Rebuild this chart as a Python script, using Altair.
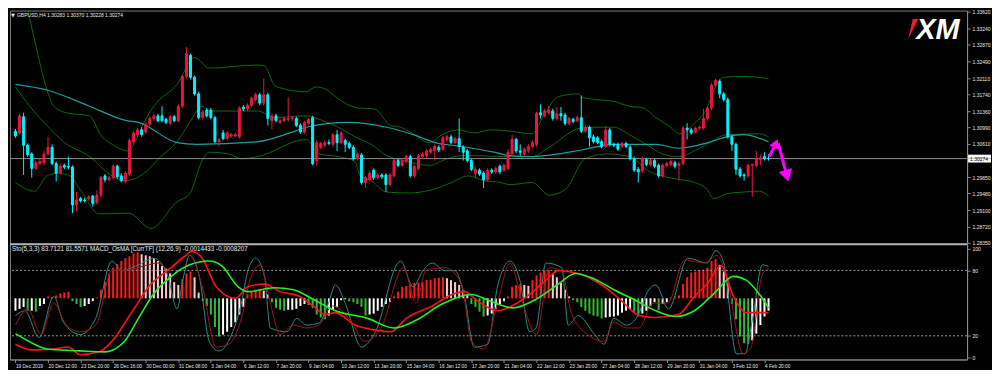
import altair as alt
import pandas as pd

# ---------------- candles (GBPUSD H4), bar index 0..185 ----------------
OPEN = [
1.3090,1.3086,1.3123,1.3058,1.3038,1.3005,1.3016,1.3018,1.3038,1.3053,
1.3016,1.2994,1.3012,1.3010,1.3008,1.2922,1.2936,1.2933,1.2936,1.2942,
1.2927,1.2944,1.2988,1.2979,1.2984,1.3010,1.2988,1.2975,1.2992,1.3066,
1.3082,1.3093,1.3088,1.3106,1.3119,1.3125,1.3125,1.3117,1.3108,1.3123,
1.3114,1.3147,1.3215,1.3263,1.3213,1.3175,1.3121,1.3138,1.3138,1.3121,
1.3066,1.3086,1.3073,1.3079,1.3079,1.3077,1.3145,1.3141,1.3149,1.3162,
1.3173,1.3154,1.3173,1.3114,1.3125,1.3110,1.3114,1.3117,1.3119,1.3119,
1.3103,1.3088,1.3108,1.3121,1.3023,1.3053,1.3058,1.3064,1.3060,1.3082,
1.3064,1.3069,1.3062,1.3053,1.3027,1.3036,1.2973,1.2979,1.3001,1.2984,
1.2990,1.2990,1.2968,1.2988,1.3023,1.3012,1.3021,1.3032,1.2988,1.3005,
1.3032,1.3034,1.3042,1.3045,1.3053,1.3049,1.3071,1.3077,1.3064,1.3073,
1.3053,1.3045,1.3023,1.2994,1.3001,1.2994,1.2979,1.3001,1.2997,1.3010,
1.3001,1.3005,1.3038,1.3071,1.3045,1.3038,1.3045,1.3055,1.3060,1.3132,
1.3125,1.3132,1.3136,1.3119,1.3130,1.3127,1.3108,1.3117,1.3114,1.3121,
1.3090,1.3099,1.3077,1.3075,1.3066,1.3055,1.3093,1.3060,1.3060,1.3055,
1.3062,1.3053,1.3027,1.3003,1.2999,1.3025,1.3014,1.3023,1.3012,1.2988,
1.3012,1.3014,1.3018,1.3012,1.3016,1.3097,1.3093,1.3088,1.3097,1.3097,
1.3119,1.3143,1.3195,1.3204,1.3175,1.3162,1.3077,1.3060,1.3003,1.2990,
1.2988,1.3012,1.3012,1.3025,1.3032,1.30283]
CLOSE = [
1.3079,1.3125,1.3058,1.3036,1.3005,1.3018,1.3021,1.3038,1.3053,1.3016,
1.2994,1.3010,1.3008,1.3008,1.2922,1.2933,1.2931,1.2931,1.2940,1.2925,
1.2944,1.2984,1.2979,1.2984,1.3010,1.2986,1.2977,1.2994,1.3069,1.3086,
1.3093,1.3082,1.3106,1.3119,1.3125,1.3114,1.3114,1.3110,1.3123,1.3114,
1.3147,1.3215,1.3267,1.3213,1.3175,1.3121,1.3134,1.3125,1.3121,1.3066,
1.3071,1.3073,1.3086,1.3082,1.3082,1.3143,1.3141,1.3149,1.3165,1.3173,
1.3154,1.3173,1.3119,1.3125,1.3114,1.3114,1.3119,1.3119,1.3121,1.3103,
1.3088,1.3110,1.3117,1.3016,1.3064,1.3062,1.3064,1.3062,1.3082,1.3064,
1.3086,1.3060,1.3053,1.3027,1.3038,1.2973,1.2984,1.2994,1.2984,1.2990,
1.2986,1.2968,1.2990,1.3023,1.3012,1.3023,1.3032,1.2988,1.3010,1.3034,
1.3038,1.3045,1.3049,1.3055,1.3047,1.3075,1.3077,1.3064,1.3073,1.3055,
1.3042,1.3023,1.3003,1.3003,1.2992,1.2979,1.3001,1.2997,1.3005,1.2997,
1.3012,1.3042,1.3071,1.3045,1.3042,1.3049,1.3055,1.3064,1.3130,1.3127,
1.3136,1.3138,1.3119,1.3130,1.3125,1.3108,1.3119,1.3112,1.3121,1.3090,
1.3099,1.3075,1.3066,1.3064,1.3055,1.3093,1.3060,1.3058,1.3049,1.3062,
1.3055,1.3027,1.3001,1.2997,1.3027,1.3014,1.3023,1.3010,1.2988,1.3012,
1.3016,1.3021,1.3010,1.3016,1.3097,1.3093,1.3086,1.3097,1.3099,1.3119,
1.3143,1.3195,1.3206,1.3175,1.3162,1.3077,1.3060,1.3003,1.2988,1.2988,
1.3012,1.3014,1.3027,1.3029,1.3027,1.30274]
HIGH = [
1.3095,1.3130,1.3132,1.3062,1.3042,1.3023,1.3027,1.3045,1.3077,1.3060,
1.3021,1.3016,1.3016,1.3032,1.3012,1.2951,1.2940,1.2938,1.2944,1.2944,
1.2955,1.2988,1.2992,1.2988,1.3014,1.3014,1.2994,1.2999,1.3073,1.3090,
1.3097,1.3099,1.3110,1.3123,1.3130,1.3130,1.3147,1.3121,1.3127,1.3127,
1.3151,1.3219,1.3282,1.3267,1.3217,1.3180,1.3138,1.3143,1.3143,1.3125,
1.3075,1.3093,1.3090,1.3086,1.3086,1.3147,1.3149,1.3154,1.3169,1.3178,
1.3178,1.3210,1.3178,1.3130,1.3130,1.3119,1.3123,1.3167,1.3125,1.3123,
1.3108,1.3114,1.3121,1.3125,1.3069,1.3066,1.3069,1.3071,1.3086,1.3093,
1.3090,1.3073,1.3066,1.3058,1.3042,1.3040,1.2988,1.2999,1.3005,1.2994,
1.2994,1.2994,1.2994,1.3027,1.3027,1.3027,1.3036,1.3036,1.3014,1.3038,
1.3042,1.3049,1.3053,1.3060,1.3058,1.3079,1.3082,1.3082,1.3077,1.3119,
1.3058,1.3049,1.3027,1.3008,1.3005,1.2999,1.3005,1.3005,1.3010,1.3014,
1.3016,1.3049,1.3082,1.3075,1.3060,1.3053,1.3060,1.3069,1.3134,1.3151,
1.3141,1.3147,1.3141,1.3145,1.3145,1.3132,1.3123,1.3121,1.3125,1.3171,
1.3103,1.3103,1.3082,1.3079,1.3071,1.3101,1.3097,1.3064,1.3064,1.3066,
1.3066,1.3058,1.3032,1.3008,1.3032,1.3029,1.3027,1.3027,1.3016,1.3016,
1.3021,1.3025,1.3023,1.3021,1.3101,1.3108,1.3097,1.3101,1.3103,1.3141,
1.3147,1.3200,1.3210,1.3208,1.3180,1.3167,1.3082,1.3064,1.3008,1.2994,
1.3016,1.3016,1.3045,1.3036,1.3042,1.30370]
LOW = [
1.3075,1.3082,1.2990,1.3032,1.2984,1.3001,1.3012,1.3012,1.3034,1.3012,
1.2975,1.2990,1.3003,1.3003,1.2903,1.2907,1.2927,1.2927,1.2931,1.2918,
1.2922,1.2940,1.2973,1.2975,1.2979,1.2981,1.2973,1.2971,1.2988,1.3062,
1.3077,1.3077,1.3084,1.3101,1.3114,1.3110,1.3110,1.3106,1.3103,1.3110,
1.3110,1.3143,1.3210,1.3208,1.3171,1.3117,1.3117,1.3121,1.3117,1.3062,
1.3055,1.3069,1.3069,1.3075,1.3077,1.3073,1.3136,1.3136,1.3145,1.3158,
1.3149,1.3149,1.3103,1.3095,1.3110,1.3106,1.3110,1.3112,1.3114,1.3099,
1.3084,1.3084,1.3103,1.3012,1.3012,1.3049,1.3053,1.3058,1.3055,1.3045,
1.3060,1.3042,1.3049,1.3023,1.3023,1.2968,1.2960,1.2975,1.2979,1.2979,
1.2981,1.2951,1.2964,1.2984,1.3008,1.3008,1.3016,1.2984,1.2984,1.3001,
1.3027,1.3029,1.3038,1.3023,1.3042,1.3045,1.3066,1.3060,1.3060,1.3042,
1.3023,1.3018,1.2999,1.2984,1.2988,1.2960,1.2975,1.2992,1.2992,1.2992,
1.2997,1.3001,1.3034,1.3040,1.3034,1.3034,1.3040,1.3051,1.3055,1.3119,
1.3121,1.3127,1.3114,1.3114,1.3114,1.3103,1.3103,1.3108,1.3110,1.3086,
1.3086,1.3055,1.3062,1.3060,1.3051,1.3051,1.3055,1.3053,1.3045,1.3051,
1.3051,1.3023,1.2997,1.2973,1.2994,1.3010,1.3010,1.3005,1.2984,1.2984,
1.3008,1.3010,1.3005,1.2977,1.3012,1.3071,1.3082,1.3084,1.3093,1.3093,
1.3114,1.3138,1.3191,1.3165,1.3158,1.3073,1.3045,1.2990,1.2984,1.2977,
1.2984,1.2940,1.3008,1.3012,1.3023,1.30228]

# ---------------- price-panel indicator lines (bar index, price) ----------------
MA_I = [0,7.75,18.2,27.3,30.2,39.7,44.5,59.5,67.4,71.4,81.7,91.2,97.7,103.1,109.6,117.5,121.5,127,133.4,139,147,157.3,162.8,170.9,174.7,178.8,185]
MA_P = [1.3197,1.3184,1.3147,1.3114,1.3110,1.3064,1.3060,1.3066,1.3086,1.3099,1.3110,1.3099,1.3082,1.3064,1.3055,1.3042,1.3034,1.3032,1.3038,1.3047,1.3060,1.3060,1.3051,1.3066,1.3077,1.3082,1.3066]

BBU_I = [2.27,4.65,7.75,9.42,12.52,18.24,20.87,23.73,27.78,29.69,31.6,34,39.7,44,47.6,59.5,61.2,63.6,65,71.4,73.8,76.2,78.6,80.3,84.1,88.1,92.2,94.6,97,101.7,104.8,108.9,112.7,116.7,121.5,127,129.4,133.4,138.2,139.4,143,147,150.8,154.2,157.3,160.4,163.2,166.8,169.9,171.6,174,178.8,185]
BBU_P = [1.3398,1.3300,1.3184,1.3147,1.3132,1.3125,1.3082,1.3060,1.3045,1.3071,1.3110,1.3147,1.3197,1.3258,1.3234,1.3241,1.3239,1.3195,1.3189,1.3180,1.3191,1.3186,1.3169,1.3158,1.3143,1.3141,1.3103,1.3099,1.3088,1.3064,1.3082,1.3093,1.3086,1.3093,1.3090,1.3084,1.3119,1.3169,1.3175,1.3167,1.3162,1.3158,1.3147,1.3143,1.3121,1.3103,1.3084,1.3108,1.3143,1.3184,1.3213,1.3215,1.3210]

BBM_I = [0,3.5,7.75,11.8,18.2,23.7,26.8,31.6,35.7,39.7,42.8,45.9,47.6,59.5,63.6,71.4,75.5,79.3,83.4,87.4,91.2,95.3,101.7,106,109.6,114.4,119.1,127,131.1,138.9,143,147,150.8,154.9,158.9,162.8,166.8,170.9,174.7,182.8,185]
BBM_P = [1.3191,1.3147,1.3103,1.3066,1.3032,1.2988,1.2977,1.2994,1.3032,1.3066,1.3110,1.3147,1.3136,1.3136,1.3121,1.3125,1.3114,1.3099,1.3077,1.3060,1.3034,1.3023,1.3012,1.3027,1.3034,1.3034,1.3032,1.3032,1.3053,1.3097,1.3099,1.3099,1.3082,1.3060,1.3038,1.3032,1.3045,1.3066,1.3082,1.3084,1.3077]

BBL_I = [0,4.65,7.75,10.1,13,15.9,20.6,27.8,33.3,39.7,42.8,45.9,47.6,52.4,55.5,59.5,71.4,74.5,79.3,83.4,84.6,87.4,91.2,97,101.7,107.2,111.3,115.1,119.1,121.5,127,131.1,135.1,139.9,145.4,150.8,155.6,160.4,163.7,166.8,169.9,171.6,174.7,178.8,182.8,185]
BBL_P = [1.2973,1.2953,1.2988,1.2994,1.2990,1.2957,1.2901,1.2903,1.2868,1.2929,1.2947,1.3023,1.3042,1.3038,1.3027,1.3032,1.3071,1.3038,1.3032,1.3021,1.2990,1.2977,1.2951,1.2949,1.2955,1.2973,1.2988,1.2977,1.2973,1.2968,1.2973,1.2944,1.2957,1.3027,1.3038,1.3032,1.2999,1.2984,1.2979,1.2973,1.2957,1.2936,1.2947,1.2951,1.2953,1.2942]

# ---------------- sub-window: OsMA histogram (x1e-4) and MACD lines ----------------
HIST = [
-13,-11,-9,-13,-13,-14,-8,-6,2,1,
3,5,6,7,-3,-6,-9,-8,-6,-3,
1,9,17,26,32,36,39,42,44,47,
48,46,45,44,42,39,34,31,26,17,
14,20,26,28,22,6,-3,-8,-17,-30,
-40,-38,-35,-30,-25,-17,-9,4,7,9,
10,8,4,-4,-10,-12,-13,-12,-12,-11,
-8,-6,-7,-10,-17,-20,-22,-18,-12,-9,
-2,-1,-3,-4,-6,-9,-18,-17,-16,-13,
-9,-6,-4,2,7,12,13,14,16,16.5,
17,19,19.5,21,21.5,22,21,19,17,14,
9,4,-6,-9,-14,-19,-18,-16,-11,-6,
-3,2,12,14,14.5,14,13,19,24,27,
29,29.5,26,22,16,9,2,-2,-4,-9,
-13,-16,-18,-19,-21,-20,-19.5,-19,-18,-15,
-13,-12,-14,-19,-16,-13,-8,-4,-12,-6,
-4,1,2,3,15,22,27,28,29,30,
32,39,41,35,28,17,-6,-22,-40,-47,
-48,-44,-37,-28,-19,-13]

MACD_I = [0,4,9.4,13,15.9,20.6,23.7,28.5,33.3,37.3,41.1,43.3,45.9,49.3,54,57.1,61.2,65,69.8,73.1,76.2,78.6,83.4,88.1,92.2,96,102.4,107.2,110.3,113.6,118.4,123.2,126.3,130.3,133.4,138.2,143.7,148.5,153.2,157.3,162.8,166.8,169.9,173.3,176.4,179.5,182.8,185]
MACD_V = [-48,-54,-53,-51,-59,-56,-45,-15,15,29,42,49,42,12,0,12,15,7,2,-8,-17,-15,-28,-33,-35,-21,-8,4,7,-3,-13,-5,4,19,29,26,15,-1,-18,-20,-17,2,15,34,2,-15,-15,-15]
SIGL_I = [0,4.65,7.75,15.9,22.1,26.8,30.2,34,38,42.8,47.6,50.7,54.7,57.1,63.6,68.3,73.1,78.6,86.5,92.9,98.4,104.8,112,116.7,122.2,127.9,133.4,137.5,142.3,147,151.8,157.3,162.1,166.8,171.6,176.4,179.5,182.8,185]
SIGL_V = [-37,-48,-53,-55,-56,-45,-21,5,22,35,39,34,12,7,11,9,-1,-13,-21,-31,-23,-6,4,-3,-10,-1,15,26,20,9,-1,-13,-19,-13,5,23,19,4,-10]

# ---------------- sub-window: Stochastic (5,3,3) ----------------
STO_I = [0,2.3,5.8,9.4,11.8,15.9,19.7,23.7,26.1,30.2,34,37.3,39.7,41.1,42.8,45.2,47.6,50,53.1,55.5,57.1,59,61.2,62.6,66.7,69.1,71.4,74.5,76.9,78.6,81,85,88.1,94.6,97.7,100.1,102.4,105.5,107.9,110.3,112.7,116,118.4,121.5,123.9,126.3,127.9,130.3,134.2,135.8,138.2,142.3,144.6,147,150.1,152.5,155.6,157.3,160.4,165.2,169.9,172.1,174,177.1,179.2,181.1,183.5,185]
STO_V = [38.6,43,18.4,56.1,32.5,21.1,36,88.6,79.8,85.1,91.2,76.3,44.7,71.1,93.9,73.7,14.9,6.1,21.1,50,79.8,91.2,73.7,27.2,23.7,36,29.8,31.6,50,66.7,50,9.6,21.1,88.6,64.9,79.8,86.8,79.8,79.8,56.1,9.6,12.3,64.9,88.6,71.1,23.7,27.2,86.8,82.5,29.8,38.6,21.1,12.3,36,29.8,36,62.3,66.7,44.7,91.2,86.8,98.2,86.8,3.5,3.5,36,85.1,83.7]
STS_I = [0,3,6.3,9.4,12.5,15.9,19.7,23.7,26.8,31.6,35,38,40.4,42.8,45.9,49.3,52.4,55.5,57.8,60.2,62.6,65,68.3,71.4,74.5,77.9,82.6,85.7,89.8,95.3,98.4,100.8,105.5,109.6,112,115.1,118.4,121.5,124.6,128,131.1,134.2,136.5,140.6,144.6,147,150.1,153.2,156.6,160.2,164.4,169.2,172.3,174.7,178.8,180.7,183.5,185]
STS_V = [29.8,44.7,21.1,50,29.8,23.7,29.8,79.8,79.8,84.2,86.8,79.8,91.2,93.9,64.9,9.6,12.3,36,73.7,85.1,50,21.1,29.8,27.2,29.8,47.4,32.5,14.9,27.2,82.5,50,79.8,82.5,67.5,14.9,7.9,50,86.8,50,21.1,82.5,79.8,41.2,21.1,14.9,32.5,27.2,27.2,50,50,89.5,86.8,93.9,73.7,3.5,9.6,76.3,81.6]

# ---------------- axes / labels ----------------
PRICE_TICKS = [1.28350,1.28720,1.29100,1.29480,1.29850,1.30610,1.30990,1.31360,1.31740,1.32110,1.32490,1.32870,1.33240,1.33620]
STO_TICKS = [0, 20, 80, 100]
TIME_TICKS = list(range(0, 185, 8))
TIME_LABELS = ["19 Dec 2019","20 Dec 12:00","23 Dec 20:00","26 Dec 16:00","30 Dec 00:00","31 Dec 08:00",
               "3 Jan 04:00","6 Jan 12:00","7 Jan 20:00","9 Jan 04:00","10 Jan 12:00","13 Jan 20:00",
               "15 Jan 04:00","16 Jan 12:00","17 Jan 20:00","21 Jan 04:00","22 Jan 12:00","23 Jan 20:00",
               "27 Jan 04:00","28 Jan 12:00","29 Jan 20:00","31 Jan 04:00","3 Feb 12:00","4 Feb 20:00"]
LAST_PRICE = 1.30274
TITLE_MAIN = "GBPUSD,H4  1.30283 1.30370 1.30228 1.30274"
TITLE_SUB = "Sto(5,3,3) 83.7121 81.5571   MACD_OsMA [CurrTF] (12,26,9) -0.0014433 -0.0008207"

# magenta hand-drawn arrows (bar index, price)
ARR_UP_I = [185.2, 186.8]
ARR_UP_P = [1.3032, 1.3062]
ARR_DN_I = [187.4, 189.5]
ARR_DN_P = [1.3062, 1.2988]

# ---------------- layout ----------------
W, H_MAIN, H_SUB = 960, 234, 116
FONT = "Liberation Sans"
TXT = "#e6e6e6"
GRAY = "#8a8a8a"
RED_C, CYAN_C = "#E8163F", "#00F2FF"

xs = alt.Scale(domain=[-0.12, 232.55], nice=False, zero=False)
ps = alt.Scale(domain=[1.28329, 1.33653], nice=False, zero=False)
ss = alt.Scale(domain=[-1.75, 104.4], nice=False, zero=False)
ms = alt.Scale(domain=[-64, 57], nice=False, zero=False)

price_axis = alt.Axis(orient="right", values=PRICE_TICKS, format=".5f", labelFontSize=5, labelFont=FONT,
                      labelColor=TXT, tickColor=GRAY, tickSize=3, domainColor=GRAY, grid=False, title=None,
                      labelPadding=2, labelOverlap=False)
sto_axis = alt.Axis(orient="right", values=STO_TICKS, format="d", labelFontSize=5, labelFont=FONT,
                    labelColor=TXT, tickColor=GRAY, tickSize=3, domainColor=GRAY, grid=False, title=None,
                    labelPadding=2, labelOverlap=False)
lab_arr = "[" + ",".join("'" + t + "'" for t in TIME_LABELS) + "]"
tick_arr = "[" + ",".join(str(t) for t in TIME_TICKS) + "]"
time_axis = alt.Axis(values=TIME_TICKS, labelExpr=f"{lab_arr}[indexof({tick_arr}, datum.value)]",
                     labelAlign="left", labelFontSize=4.8, labelFont=FONT, labelColor=TXT,
                     tickColor=GRAY, tickSize=3, domainColor=GRAY, grid=False, title=None,
                     labelPadding=1, labelOverlap=False, labelFlush=False, labelBound=False)

XN = alt.X("i:Q", scale=xs, axis=None)
XT = alt.X("i:Q", scale=xs, axis=time_axis)

bars = pd.DataFrame({"i": list(range(len(CLOSE))), "open": OPEN, "high": HIGH, "low": LOW, "close": CLOSE})
bars["col"] = [RED_C if c >= o else CYAN_C for o, c in zip(OPEN, CLOSE)]


def pline(ix, vals, color, width):
    df = pd.DataFrame({"i": ix, "v": vals})
    return alt.Chart(df).mark_line(color=color, strokeWidth=width, clip=True, interpolate="monotone").encode(
        x=XN, y=alt.Y("v:Q", scale=ps, axis=price_axis))


bb_col = "#0B680B"
main_layers = [
    pline(BBU_I, BBU_P, bb_col, 1),
    pline(BBM_I, BBM_P, bb_col, 1),
    pline(BBL_I, BBL_P, bb_col, 1),
    pline(MA_I, MA_P, "#1A9E9E", 1.2),
    alt.Chart(pd.DataFrame({"p": [LAST_PRICE]})).mark_rule(color="#8c8c8c", strokeWidth=1).encode(
        y=alt.Y("p:Q", scale=ps, axis=price_axis)),
    alt.Chart(bars).mark_rule(strokeWidth=1).encode(
        x=XN, y=alt.Y("low:Q", scale=ps, axis=price_axis), y2="high:Q",
        color=alt.Color("col:N", scale=None)),
    alt.Chart(bars).mark_bar(size=2, strokeWidth=1).encode(
        x=XN, y=alt.Y("open:Q", scale=ps, axis=price_axis), y2="close:Q",
        color=alt.Color("col:N", scale=None),
        stroke=alt.Stroke("col:N", scale=None)),
]

# arrows
for ix, pv, ang, sz in [(ARR_UP_I, ARR_UP_P, 24, 110), (ARR_DN_I, ARR_DN_P, 165, 190)]:
    adf = pd.DataFrame({"i": ix, "v": pv})
    main_layers.append(alt.Chart(adf).mark_line(color="#FF00FF", strokeWidth=3).encode(
        x=XN, y=alt.Y("v:Q", scale=ps, axis=price_axis)))
    main_layers.append(alt.Chart(adf.tail(1)).mark_point(shape="triangle-up", filled=True, color="#FF00FF",
                                                         opacity=1, size=sz, angle=ang).encode(
        x=XN, y=alt.Y("v:Q", scale=ps, axis=price_axis)))

# current price tag on the axis
tag = pd.DataFrame({"p": [LAST_PRICE], "t": [f"{LAST_PRICE:.5f}"]})
main_layers.append(alt.Chart(tag).mark_rect(color="#ffffff").encode(
    x=alt.value(961), x2=alt.value(984),
    y=alt.Y("p:Q", scale=ps, axis=price_axis), y2=alt.Y2(datum=LAST_PRICE + 0.0009)))
main_layers.append(alt.Chart(tag).mark_rect(color="#ffffff").encode(
    x=alt.value(961), x2=alt.value(984),
    y=alt.Y("p:Q", scale=ps, axis=price_axis), y2=alt.Y2(datum=LAST_PRICE - 0.0009)))
main_layers.append(alt.Chart(tag).mark_text(align="left", baseline="middle", fontSize=5, font=FONT,
                                            color="#000000").encode(
    x=alt.value(963), y=alt.Y("p:Q", scale=ps, axis=price_axis), text="t:N"))

# title text
main_layers.append(alt.Chart(pd.DataFrame({"t": ["\u25bc"]})).mark_text(
    align="left", baseline="middle", fontSize=5, font="DejaVu Sans", color=TXT).encode(
    x=alt.value(1), y=alt.value(4), text="t:N"))
main_layers.append(alt.Chart(pd.DataFrame({"t": [TITLE_MAIN]})).mark_text(
    align="left", baseline="middle", fontSize=5, font=FONT, color=TXT).encode(
    x=alt.value(7), y=alt.value(4), text="t:N"))

# XM logo
main_layers.append(alt.Chart(pd.DataFrame({"t": ["XM"]})).mark_text(
    align="left", baseline="alphabetic", fontSize=29, font=FONT, fontStyle="italic", fontWeight="bold",
    color="#ffffff").encode(x=alt.value(909), y=alt.value(28.5), text="t:N"))
main_layers.append(alt.Chart(pd.DataFrame({"t": ["mark"]})).mark_point(
    shape="M -0.05 -1 L 0.5 -1 L -0.5 1 Z", filled=True, color="#E52222", opacity=1, size=400).encode(
    x=alt.value(906), y=alt.value(18.5)))

top = alt.layer(*main_layers).properties(width=W, height=H_MAIN)

# ---------------- sub window ----------------
hv = HIST
cols = []
for k, v in enumerate(hv):
    prev = hv[k - 1] if k > 0 else v
    if v >= 0:
        cols.append("#FF1A1A" if v >= prev else "#FFC8CC")
    else:
        cols.append("#35B835" if v < prev else "#FFFFFF")
hdf = pd.DataFrame({"i": list(range(len(hv))), "v": hv, "c": cols})
hist = alt.Chart(hdf).mark_bar(size=2).encode(
    x=XT, y=alt.Y("v:Q", scale=ms, axis=None), y2=alt.Y2(datum=0),
    color=alt.Color("c:N", scale=None))


def mline(ix, vals, color, width):
    df = pd.DataFrame({"i": ix, "v": vals})
    return alt.Chart(df).mark_line(color=color, strokeWidth=width, interpolate="monotone", clip=True).encode(
        x=XT, y=alt.Y("v:Q", scale=ms, axis=None))


def sline(ix, vals, color, width):
    df = pd.DataFrame({"i": ix, "v": vals})
    return alt.Chart(df).mark_line(color=color, strokeWidth=width, interpolate="monotone", clip=True).encode(
        x=XT, y=alt.Y("v:Q", scale=ss, axis=sto_axis))


levels = alt.Chart(pd.DataFrame({"lv": [20, 80]})).mark_rule(color="#9a9a9a", strokeDash=[2, 2],
                                                              strokeWidth=1).encode(
    y=alt.Y("lv:Q", scale=ss, axis=sto_axis))
sub_title = alt.Chart(pd.DataFrame({"t": [TITLE_SUB]})).mark_text(
    align="left", baseline="middle", fontSize=6.3, font=FONT, color=TXT).encode(
    x=alt.value(2), y=alt.value(5), text="t:N")
sep = alt.Chart(pd.DataFrame({"lv": [0]})).mark_rule(color="#b0b0b0", strokeWidth=2).encode(
    y=alt.value(0.5))

g_hist = alt.layer(hist)
g_sto = alt.layer(levels, sline(STO_I, STO_V, "#2B8A8A", 1), sline(STS_I, STS_V, "#A01515", 1), sub_title, sep)
g_macd = alt.layer(mline(MACD_I, MACD_V, "#FF1010", 1.6), mline(SIGL_I, SIGL_V, "#22F022", 1.6))

sub = alt.layer(g_hist, g_sto, g_macd).resolve_scale(y="independent").properties(width=W, height=H_SUB)

chart = alt.vconcat(top, sub, spacing=0, bounds="flush").properties(padding=0).configure(
    background="#000000").configure_view(stroke="#7a7a7a", strokeWidth=1)

chart.save("out.html", embed_options={"renderer": "svg", "actions": False})
